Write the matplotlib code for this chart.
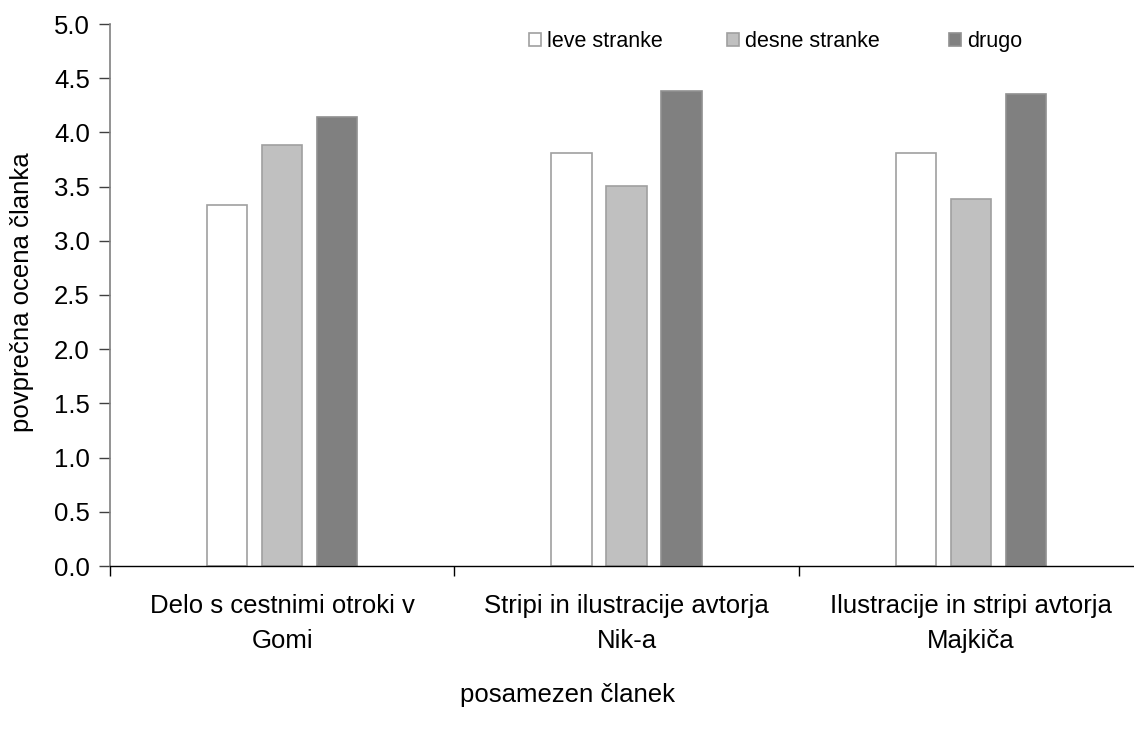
import matplotlib
matplotlib.use("Agg")
import matplotlib.pyplot as plt
import numpy as np

plt.rcParams["font.family"] = ["Liberation Sans", "DejaVu Sans"]

# data
categories = [
    "Delo s cestnimi otroki v\nGomi",
    "Stripi in ilustracije avtorja\nNik-a",
    "Ilustracije in stripi avtorja\nMajkiča",
]
series_names = ["leve stranke", "desne stranke", "drugo"]
leve = [3.33, 3.81, 3.81]
desne = [3.88, 3.51, 3.39]
drugo = [4.14, 4.38, 4.35]
y_ticks = np.arange(0, 5.01, 0.5)

fills = ["#ffffff", "#c0c0c0", "#808080"]
edges = ["#a0a0a0", "#a0a0a0", "#909090"]
# left edge of each legend entry, figure pixels
legend_x = [529, 727, 949]

FS = 18.5

fig = plt.figure(figsize=(11.34, 7.33), dpi=100)
ax = fig.add_axes([110 / 1134, 1 - 566 / 733, 1033 / 1134, 542 / 733])

x = np.arange(len(categories))
width = 0.117
step = 0.16
bars = []
for i, (name, vals) in enumerate(zip(series_names, [leve, desne, drugo])):
    b = ax.bar(x + (i - 1) * step, vals, width, color=fills[i],
               edgecolor=edges[i], linewidth=1.2, label=name, zorder=2)
    bars.append(b)

ax.set_xlim(-0.5, len(categories) - 0.5)
ax.set_ylim(0, 5.0)
ax.set_yticks(y_ticks)
ax.set_yticklabels([f"{v:.1f}" for v in y_ticks])

ax.set_xticks(x)
ax.set_xticklabels(categories, linespacing=1.58)
ax.set_xticks(np.arange(-0.5, len(categories), 1.0), minor=True)
ax.tick_params(axis="x", which="major", length=0, pad=20.5, labelsize=FS)
ax.tick_params(axis="x", which="minor", length=7, width=1, color="black")
ax.tick_params(axis="y", length=8, width=1, color="#404040", pad=6.5,
               labelsize=FS)

for side in ("top", "right"):
    ax.spines[side].set_visible(False)
ax.spines["left"].set_color("#808080")
ax.spines["left"].set_linewidth(1.2)
ax.spines["bottom"].set_color("black")
ax.spines["bottom"].set_linewidth(1.0)

fig.text(22 / 1134, 1 - 292 / 733, "povprečna ocena članka", rotation=90,
         ha="center", va="center", fontsize=FS)
fig.text(0.5, 1 - 695 / 733, "posamezen članek", ha="center", va="center",
         fontsize=FS)

# one legend per entry, all hung from the same top edge so baselines line up
for b, name, lx in zip(bars, series_names, legend_x):
    leg = fig.legend([b], [name], loc="upper left",
                     bbox_to_anchor=(lx / 1134, 1 - 31 / 733),
                     frameon=False, fontsize=15.5, handlelength=0.55,
                     handleheight=0.55, handletextpad=0.3,
                     borderpad=0, borderaxespad=0)

fig.savefig("out.png", dpi=100)
